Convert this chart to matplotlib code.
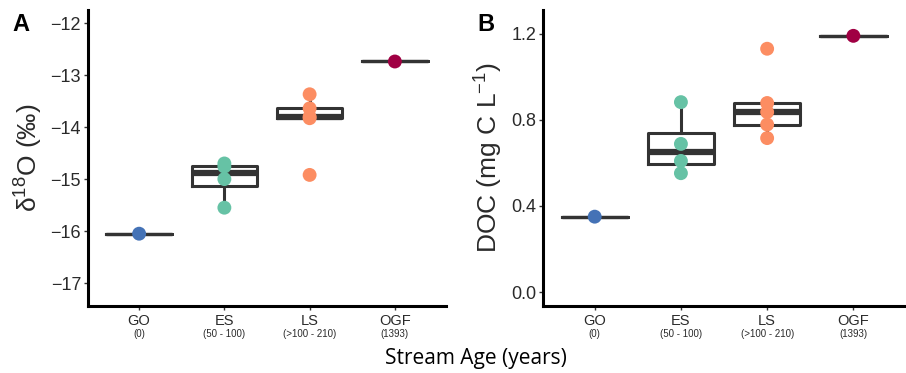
import matplotlib
matplotlib.use("Agg")
import matplotlib.pyplot as plt
import matplotlib.transforms as mtransforms

plt.rcParams['font.family'] = ['Liberation Sans', 'DejaVu Sans']
plt.rcParams['mathtext.default'] = 'regular'

# categories and their age ranges
groups = ["GO", "ES", "LS", "OGF"]
ages = ["(0)", "(50 - 100)", "(>100 - 210)", "(1393)"]
colors = ["#4472b6", "#66c2a5", "#fc8d62", "#a00043"]

# panel A: delta 18O (permil)
d18o = [
    [-16.05],
    [-14.70, -14.76, -15.00, -15.55],
    [-13.37, -13.64, -13.80, -13.83, -14.92],
    [-12.74],
]

# panel B: DOC (mg C / L)
doc = [
    [0.35],
    [0.882, 0.688, 0.609, 0.552],
    [1.13, 0.878, 0.836, 0.778, 0.715],
    [1.19],
]

BOX_COLOR = "#333333"
TEXT_COLOR = "#2a2a2a"


def draw_panel(ax, data, ylim, yticks, yticklabels, ylabel, letter, letter_x):
    pos = list(range(len(groups)))
    bp = ax.boxplot(data, positions=pos, widths=0.77, whis=1.5, showfliers=False,
                    showcaps=False,
                    boxprops=dict(color=BOX_COLOR, linewidth=2.2),
                    whiskerprops=dict(color=BOX_COLOR, linewidth=2.2),
                    medianprops=dict(color=BOX_COLOR, linewidth=4.5,
                                     solid_capstyle='butt'))
    # single-sample groups collapse to a plain line
    for med, vals in zip(bp['medians'], data):
        if len(vals) == 1:
            med.set_linewidth(2.4)
    for i, vals in enumerate(data):
        ax.scatter([i] * len(vals), vals, s=100, color=colors[i], zorder=5,
                   edgecolors='none')

    ax.set_xlim(-0.6, 3.6)
    ax.set_ylim(*ylim)
    ax.set_yticks(yticks)
    ax.set_yticklabels(yticklabels, fontsize=13, color=TEXT_COLOR)
    ax.set_xticks(pos)
    ax.set_xticklabels(groups, fontsize=10.5, color=TEXT_COLOR)
    ax.tick_params(axis='x', length=3, width=1, color="#333333", pad=3)
    ax.tick_params(axis='y', length=3, width=1, color="#333333", pad=2)

    trans = mtransforms.blended_transform_factory(ax.transData, ax.transAxes)
    for i, a in enumerate(ages):
        ax.text(i, -0.095, a, transform=trans, ha='center', va='center',
                fontsize=7, color=TEXT_COLOR)

    for side in ['top', 'right']:
        ax.spines[side].set_visible(False)
    for side in ['left', 'bottom']:
        ax.spines[side].set_linewidth(2.2)
        ax.spines[side].set_color('black')

    ax.set_ylabel(ylabel, fontsize=19, labelpad=4, color=TEXT_COLOR)
    fig.text(letter_x, 0.935, letter, fontsize=17, fontweight='bold',
             ha='left', va='center')


fig = plt.figure(figsize=(9.06, 3.73), dpi=100)
axA = fig.add_axes([0.0971, 0.1796, 0.3952, 0.7936])
axB = fig.add_axes([0.5993, 0.1796, 0.3997, 0.7936])

draw_panel(axA, d18o, (-17.44, -11.75), [-17, -16, -15, -14, -13, -12],
           ["\u221217", "\u221216", "\u221215", "\u221214", "\u221213", "\u221212"],
           r"$\delta^{18}$O (‰)", "A", 0.014)
draw_panel(axB, doc, (-0.065, 1.31), [0.0, 0.4, 0.8, 1.2],
           ["0.0", "0.4", "0.8", "1.2"],
           r"DOC (mg C L$^{-1}$)", "B", 0.527)

fig.text(0.525, 0.04, "Stream Age (years)", fontsize=15, ha='center', va='center',
         family=['Open Sans', 'DejaVu Sans'])

fig.savefig("out.png", dpi=100)
